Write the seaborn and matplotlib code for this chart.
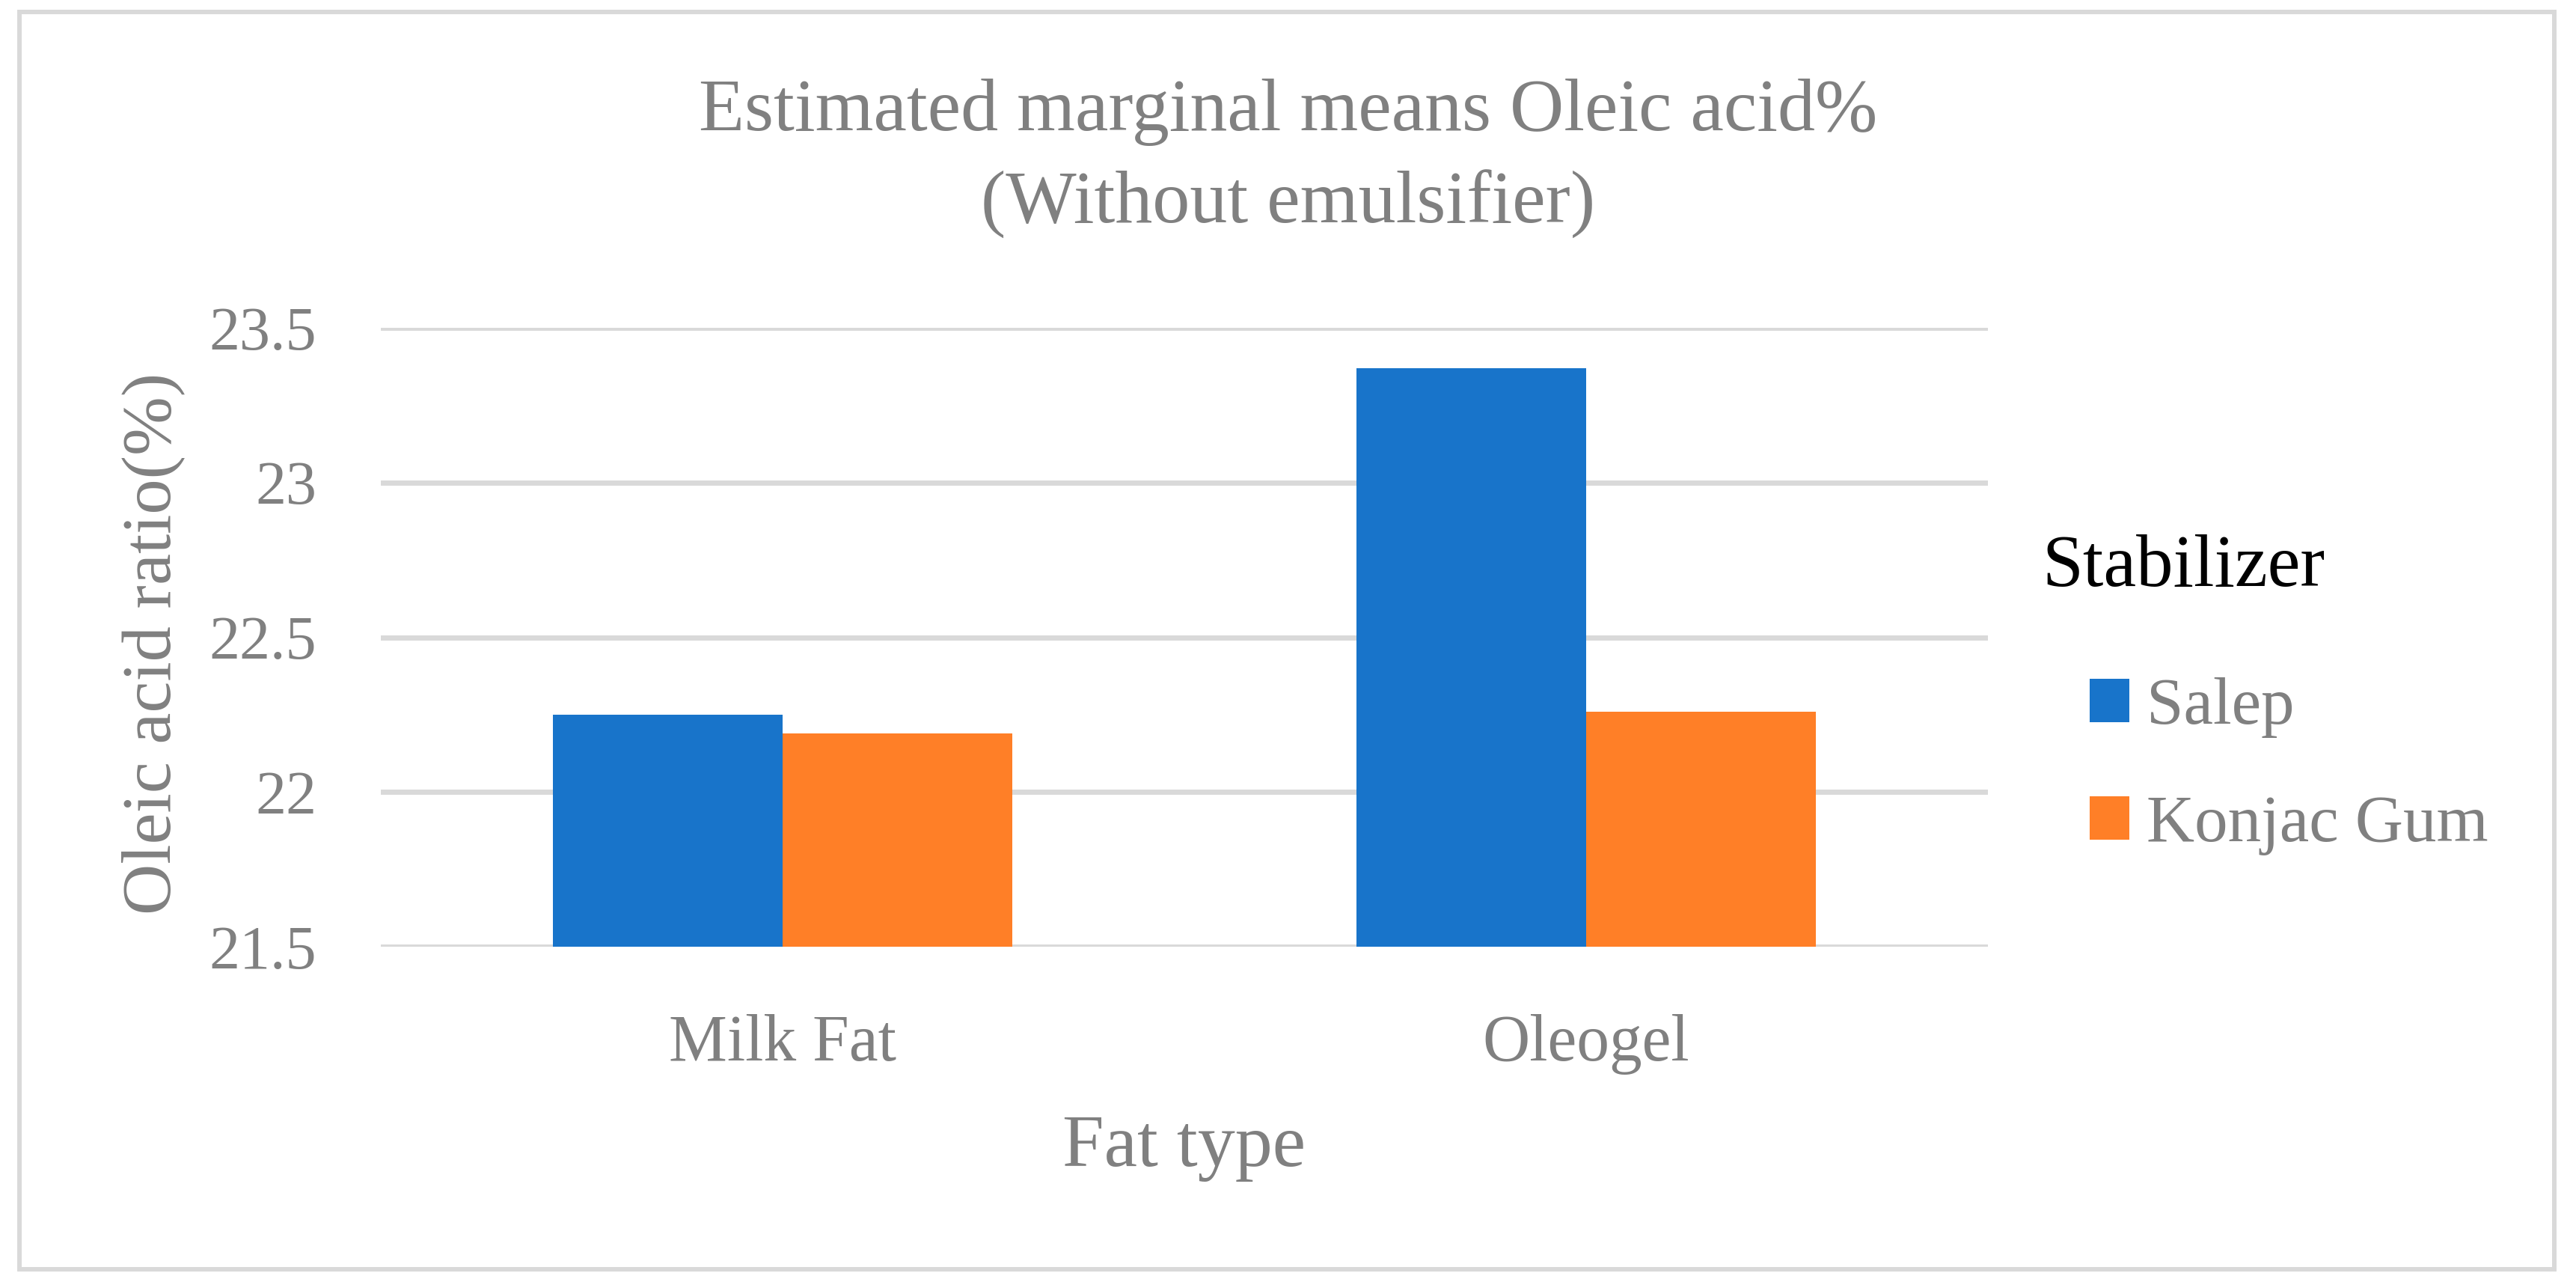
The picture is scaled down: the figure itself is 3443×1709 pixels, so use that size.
import pandas as pd
import seaborn as sns
import matplotlib.pyplot as plt
from matplotlib.patches import Rectangle

# %% Data

fat_types = ['Milk Fat', 'Oleogel']
stabilizers = ['Salep', 'Konjac Gum']
salep_vals = [22.25, 23.37]
konjac_vals = [22.19, 22.26]
y_ticks = [21.5, 22, 22.5, 23, 23.5]
y_tick_labels = ['21.5', '22', '22.5', '23', '23.5']

df = pd.DataFrame({
    'Fat type': fat_types * 2,
    'Stabilizer': [stabilizers[0]] * 2 + [stabilizers[1]] * 2,
    'Oleic': salep_vals + konjac_vals,
})

# %% Plot

sns.set_theme(style='white')
plt.rcParams['font.family'] = ['Liberation Serif', 'DejaVu Serif']
grey = '#808080'

W, H = 3443, 1709
fig = plt.figure(figsize=(W / 100, H / 100), dpi=100)
ax = fig.add_axes([509 / W, 1 - 1265 / H, 2148 / W, 827 / H])

sns.barplot(data=df, x='Fat type', y='Oleic', hue='Stabilizer',
            order=fat_types, hue_order=stabilizers,
            palette=['#1874CA', '#FF7F27'], width=0.572,
            saturation=1, linewidth=0, ax=ax, zorder=3)

ax.set_ylim(21.5, 23.5)
ax.set_xlim(-0.5, 1.5)
ax.set_yticks(y_ticks)
ax.set_yticklabels(y_tick_labels)
ax.yaxis.grid(True, color='#d9d9d9', lw=5, zorder=0)
ax.set_axisbelow(True)
for s in ax.spines.values():
    s.set_visible(False)
ax.tick_params(axis='y', length=0, pad=62, labelsize=59, labelcolor=grey)
ax.tick_params(axis='x', length=0, pad=65, labelsize=63, labelcolor=grey)

ax.set_xlabel('Fat type', fontsize=72, color=grey)
ax.xaxis.set_label_coords(0.5, -293 / 827)
ax.xaxis.label.set_va('baseline')
ax.set_ylabel('Oleic acid ratio(%)', fontsize=68, color=grey)
ax.yaxis.set_label_coords(-282 / 2148, 0.49)
ax.yaxis.label.set_va('baseline')

fig.text(0.5, 1 - 174 / H, 'Estimated marginal means Oleic acid%',
         ha='center', va='baseline', fontsize=72, color=grey)
fig.text(0.5, 1 - 298 / H, '(Without emulsifier)',
         ha='center', va='baseline', fontsize=72, color=grey)

# legend
handles, labels = ax.get_legend_handles_labels()
ax.legend_.remove()
fig.legend(handles, labels, loc='upper left',
           bbox_to_anchor=(2793 / W, 1 - 905 / H), frameon=False,
           borderpad=0, borderaxespad=0, handlelength=0.6, handleheight=0.62,
           handletextpad=0.25, labelspacing=0.86, fontsize=64, labelcolor=grey)
fig.text(2729 / W, 1 - 783 / H, 'Stabilizer', ha='left', va='baseline',
         fontsize=71, color='black')

# outer border
fig.patches.append(Rectangle((26 / W, 13 / H), (3414 - 26) / W, (1693 - 13) / H,
                             transform=fig.transFigure, fill=False,
                             edgecolor='#d9d9d9', lw=4.3))

fig.savefig('out.png', dpi=100, facecolor='white')
